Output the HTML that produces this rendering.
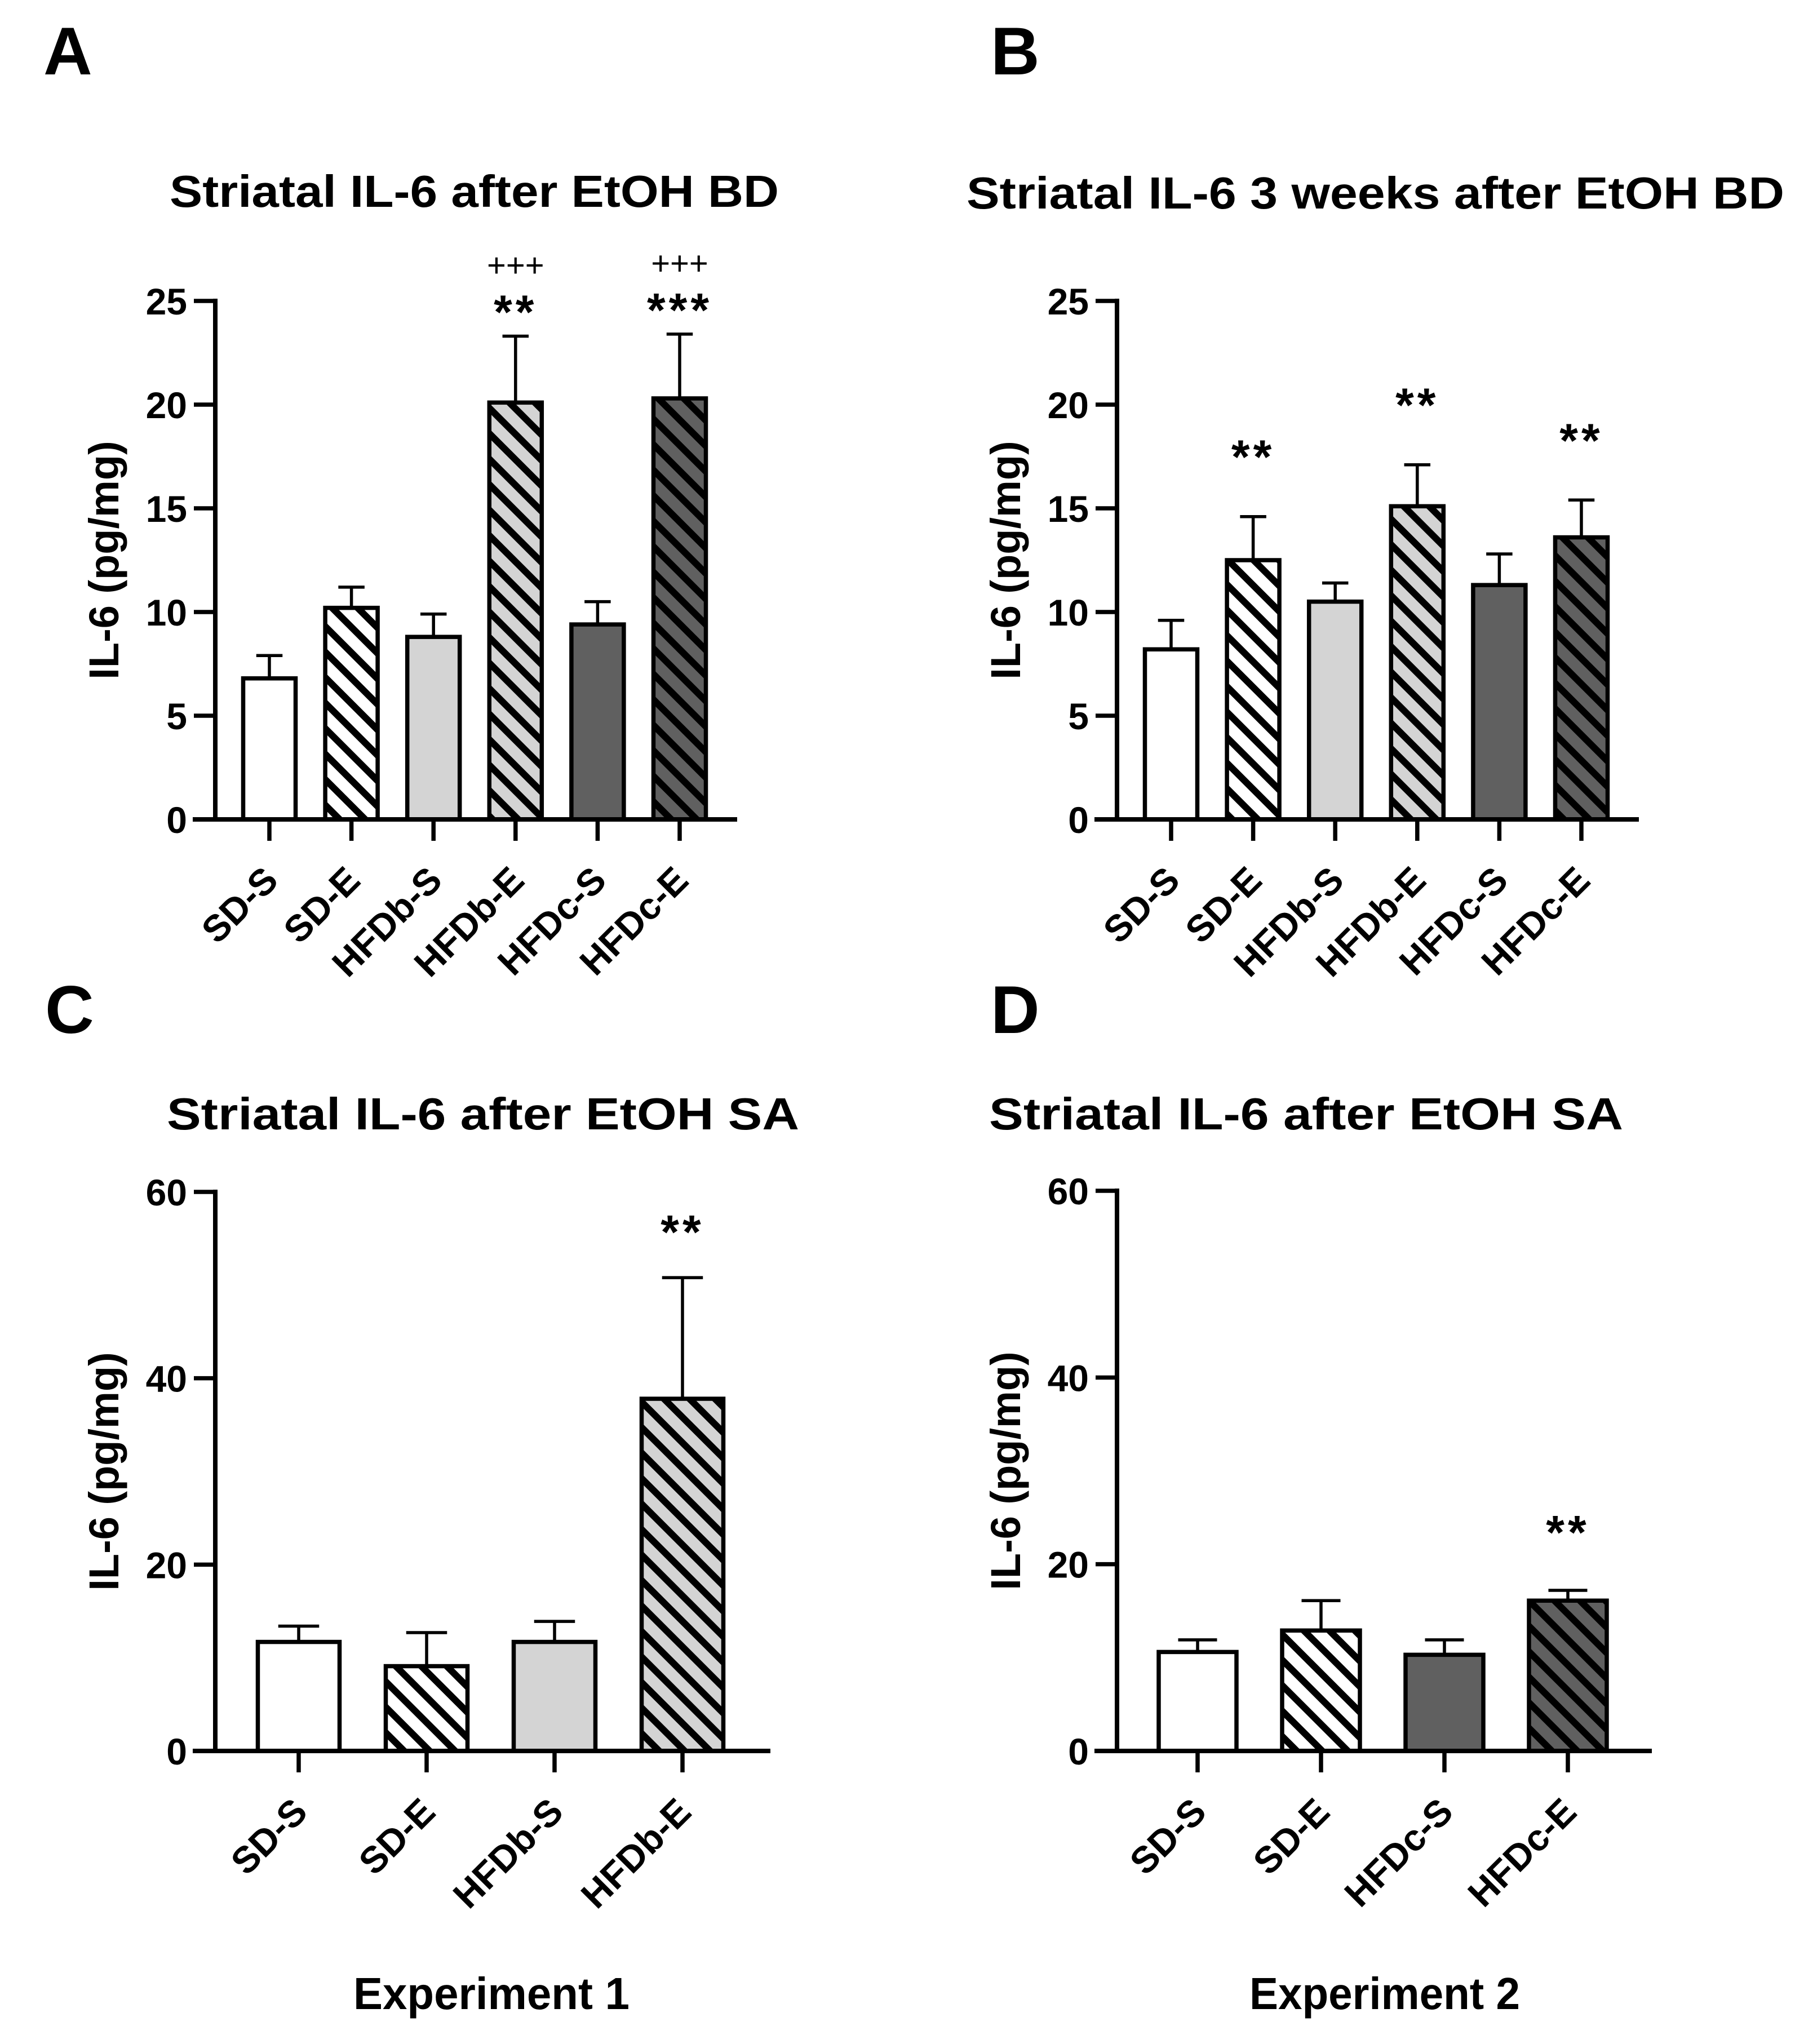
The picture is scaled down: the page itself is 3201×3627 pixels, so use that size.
<!DOCTYPE html>
<html><head><meta charset="utf-8"><style>
html,body{margin:0;padding:0;background:#fff;}
svg{display:block;font-family:"Liberation Sans",Arial,sans-serif;}
</style></head><body>
<svg id="fig" width="3201" height="3627" viewBox="0 0 3201 3627" xmlns="http://www.w3.org/2000/svg">
<defs>
<pattern id="hatch" patternUnits="userSpaceOnUse" width="32" height="32" patternTransform="rotate(-45)">
<rect x="0" y="0" width="12" height="32" fill="#000"/>
</pattern>
</defs>
<rect width="3201" height="3627" fill="#fff"/>
<g font-weight="bold" fill="#000">
<text x="77" y="132" font-size="120">A</text>
<text x="1758" y="132" font-size="120">B</text>
<text x="80" y="1833" font-size="120">C</text>
<text x="1758" y="1833" font-size="120">D</text>
<text x="301" y="367" font-size="80" textLength="1081" lengthAdjust="spacingAndGlyphs">Striatal IL-6 after EtOH BD</text>
<text x="1715" y="370" font-size="80" textLength="1451" lengthAdjust="spacingAndGlyphs">Striatal IL-6 3 weeks after EtOH BD</text>
<text x="296" y="2004" font-size="80" textLength="1122" lengthAdjust="spacingAndGlyphs">Striatal IL-6 after EtOH SA</text>
<text x="1755" y="2004" font-size="80" textLength="1125" lengthAdjust="spacingAndGlyphs">Striatal IL-6 after EtOH SA</text>
<text x="627" y="3565" font-size="80" textLength="490" lengthAdjust="spacingAndGlyphs">Experiment 1</text>
<text x="2217" y="3565" font-size="80" textLength="480" lengthAdjust="spacingAndGlyphs">Experiment 2</text>
</g>
</svg>
<script>
// Panel A data
const catsA = ["SD-S","SD-E","HFDb-S","HFDb-E","HFDc-S","HFDc-E"];
const valsA = [6.8, 10.2, 8.8, 20.1, 9.4, 20.3];
const errsA = [7.9, 11.2, 9.9, 23.3, 10.5, 23.4];
const sigA  = ["","","","**","","***"];
const plusA = ["","","","+++","","+++"];
const ticksA = [0,5,10,15,20,25];
// Panel B data
const catsB = ["SD-S","SD-E","HFDb-S","HFDb-E","HFDc-S","HFDc-E"];
const valsB = [8.2, 12.5, 10.5, 15.1, 11.3, 13.6];
const errsB = [9.6, 14.6, 11.4, 17.1, 12.8, 15.4];
const sigB  = ["","**","","**","","**"];
const plusB = ["","","","","",""];
const ticksB = [0,5,10,15,20,25];
// Panel C data
const catsC = ["SD-S","SD-E","HFDb-S","HFDb-E"];
const valsC = [11.7, 9.1, 11.7, 37.8];
const errsC = [13.4, 12.7, 13.9, 50.8];
const sigC  = ["","","","**"];
const plusC = ["","","",""];
const ticksC = [0,20,40,60];
// Panel D data
const catsD = ["SD-S","SD-E","HFDc-S","HFDc-E"];
const valsD = [10.6, 12.9, 10.3, 16.1];
const errsD = [11.9, 16.1, 11.9, 17.2];
const sigD  = ["","","","**"];
const plusD = ["","","",""];
const ticksD = [0,20,40,60];

const fillsSix = [["#fff",0],["#fff",1],["#d4d4d4",0],["#d4d4d4",1],["#606060",0],["#606060",1]];
const fillsC = [["#fff",0],["#fff",1],["#d4d4d4",0],["#d4d4d4",1]];
const fillsD = [["#fff",0],["#fff",1],["#606060",0],["#606060",1]];

const NS = "http://www.w3.org/2000/svg";
const svg = document.getElementById("fig");
function mk(tag, attrs, parent){
  const e = document.createElementNS(NS, tag);
  for (const k in attrs) e.setAttribute(k, attrs[k]);
  (parent||svg).appendChild(e);
  return e;
}

function drawPanel(id, cfg, cats, vals, errs, sig, plus, ticks, fills){
  const g = mk("g", {});
  
  
  const ymax = ticks[ticks.length-1];
  const yS = v => cfg.y0 - (v/ymax)*(cfg.y0 - cfg.yTop);
  const xS = i => cfg.x0 + i*cfg.step;
  cats.forEach((c,i)=>{
    const x = xS(i) - cfg.bw/2, y = yS(vals[i]), h = cfg.y0 - y;
    const bg = mk("g", {}, g);
    
    
    mk("rect", {x:x, y:y, width:cfg.bw, height:h, fill:fills[i][0]}, bg);
    if (fills[i][1]) mk("rect", {x:x, y:y, width:cfg.bw, height:h, fill:"url(#hatch)"}, bg);
    mk("rect", {x:x, y:y, width:cfg.bw, height:h, fill:"none", stroke:"#000", "stroke-width":7.5}, bg);
    const ey = yS(errs[i]);
    const eb = mk("path", {d:`M${xS(i)},${y} V${ey} M${xS(i)-cfg.bw/4},${ey} H${xS(i)+cfg.bw/4}`, stroke:"#000", "stroke-width":5.5, fill:"none"}, g);
    
    
    if (sig[i]) {
      const t = mk("text", {x:xS(i), y:ey - cfg.sigOff + 46, "text-anchor":"middle", "font-size":84, "font-weight":"bold", "letter-spacing":6}, g);
      t.textContent = sig[i];
      
      
    }
    if (plus[i]) {
      const t = mk("text", {x:xS(i), y:ey - cfg.sigOff - 46, "text-anchor":"middle", "font-size":58}, g);
      t.textContent = plus[i];
      
      
    }
    mk("line", {x1:xS(i), x2:xS(i), y1:cfg.y0, y2:cfg.y0+38, stroke:"#000", "stroke-width":7.5}, g);
    const lx = xS(i)+19, ly = cfg.y0+112;
    const lt = mk("text", {x:lx, y:ly, "text-anchor":"end", "font-size":66, "font-weight":"bold", transform:`rotate(-45 ${lx} ${ly})`}, g);
    lt.textContent = c;
    
    
  });
  const ya = mk("line", {x1:cfg.ax, x2:cfg.ax, y1:cfg.yTop-4, y2:cfg.y0+4, stroke:"#000", "stroke-width":8}, g);
  
  
  const xa = mk("line", {x1:cfg.xL, x2:cfg.xR, y1:cfg.y0, y2:cfg.y0, stroke:"#000", "stroke-width":8}, g);
  
  
  ticks.forEach(t=>{
    mk("line", {x1:cfg.ax-38, x2:cfg.ax, y1:yS(t), y2:yS(t), stroke:"#000", "stroke-width":7.5}, g);
    const tl = mk("text", {x:cfg.ax-50, y:yS(t)+24, "text-anchor":"end", "font-size":66, "font-weight":"bold"}, g);
    tl.textContent = t;
    
    
  });
  const ycx = cfg.ax - 172, ycy = (cfg.y0 + cfg.yTop)/2;
  const yt = mk("text", {x:ycx, y:ycy, "text-anchor":"middle", "font-size":74, "font-weight":"bold", transform:`rotate(-90 ${ycx} ${ycy})`}, g);
  yt.textContent = "IL-6 (pg/mg)";
  
  
}

drawPanel("a", {ax:382, y0:1454, yTop:534, x0:478, step:145.6, bw:93, xL:342, xR:1308, sigOff:60}, catsA, valsA, errsA, sigA, plusA, ticksA, fillsSix);
drawPanel("b", {ax:1982, y0:1454, yTop:534, x0:2078, step:145.6, bw:93, xL:1942, xR:2908, sigOff:123}, catsB, valsB, errsB, sigB, plusB, ticksB, fillsSix);
drawPanel("c", {ax:382, y0:3107, yTop:2115, x0:530, step:227, bw:145, xL:342, xR:1367, sigOff:98}, catsC, valsC, errsC, sigC, plusC, ticksC, fillsC);
drawPanel("d", {ax:1982, y0:3107, yTop:2113, x0:2125, step:219, bw:138, xL:1942, xR:2931, sigOff:120}, catsD, valsD, errsD, sigD, plusD, ticksD, fillsD);
</script>
</body></html>
